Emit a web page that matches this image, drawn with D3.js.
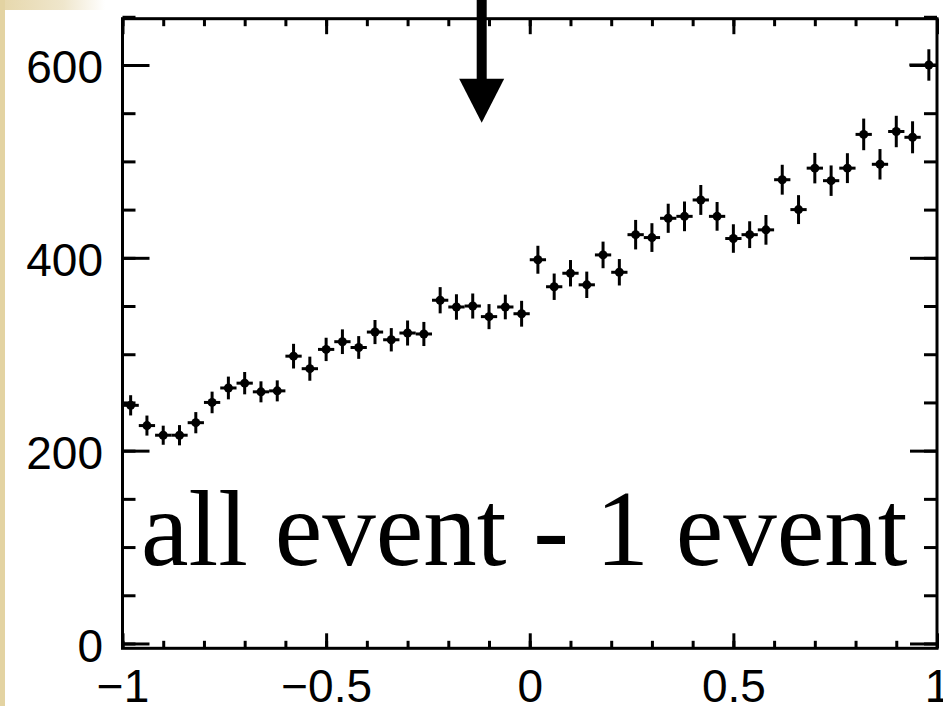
<!DOCTYPE html>
<html>
<head>
<meta charset="utf-8">
<script src="https://cdn.jsdelivr.net/npm/d3@7"></script>
<style>
  html, body { margin: 0; padding: 0; background: #ffffff; }
  svg { display: block; }
</style>
</head>
<body>
<svg id="chart" width="943" height="706"></svg>
<script>
// Histogram: 50 bins of width 0.04 over [-1, 1]
const binCenters = [
  -0.98, -0.94, -0.90, -0.86, -0.82, -0.78, -0.74, -0.70, -0.66, -0.62,
  -0.58, -0.54, -0.50, -0.46, -0.42, -0.38, -0.34, -0.30, -0.26, -0.22,
  -0.18, -0.14, -0.10, -0.06, -0.02,  0.02,  0.06,  0.10,  0.14,  0.18,
   0.22,  0.26,  0.30,  0.34,  0.38,  0.42,  0.46,  0.50,  0.54,  0.58,
   0.62,  0.66,  0.70,  0.74,  0.78,  0.82,  0.86,  0.90,  0.94,  0.98
];
const counts = [
  247, 226, 216, 216, 229, 250, 265, 270, 261, 262,
  298, 285, 305, 313, 307, 323, 315, 322, 321, 356,
  349, 350, 339, 349, 342, 398, 370, 384, 372, 403,
  385, 424, 421, 441, 443, 460, 443, 420, 424, 429,
  481, 450, 493, 480, 493, 528, 497, 531, 525, 600
];
const countErrors = [
  10.5, 10.4, 9.9, 10.5, 11.0, 11.2, 11.8, 11.6, 10.9, 10.9,
  12.8, 12.5, 12.1, 12.8, 11.8, 12.5, 12.1, 13.0, 12.5, 13.6,
  13.2, 13.0, 13.0, 12.8, 13.4, 14.5, 13.7, 13.7, 13.7, 13.8,
  13.7, 15.3, 14.9, 15.1, 15.4, 15.5, 14.9, 14.8, 13.9, 15.4,
  15.5, 15.0, 15.8, 15.8, 15.5, 16.4, 15.8, 16.3, 16.6, 16.3
];
// half bin widths (left / right) for the horizontal bars
const xErrLeft = [
  0.02, 0.02, 0.02, 0.02, 0.02, 0.02, 0.02, 0.02, 0.02, 0.02,
  0.02, 0.02, 0.02, 0.02, 0.02, 0.02, 0.02, 0.02, 0.02, 0.02,
  0.02, 0.02, 0.02, 0.02, 0.02, 0.02, 0.02, 0.02, 0.02, 0.02,
  0.02, 0.02, 0.02, 0.02, 0.02, 0.02, 0.02, 0.02, 0.02, 0.02,
  0.02, 0.02, 0.02, 0.02, 0.02, 0.02, 0.02, 0.02, 0.02, 0.048
];
const xErrRight = 0.02;

const xMajorTicks = [-1, -0.5, 0, 0.5, 1];
const xTickLabels = ["\u22121", "\u22120.5", "0", "0.5", "1"];
const xMinorTicks = d3.range(-10, 11).map(k => k / 10);
const yMajorTicks = [0, 200, 400, 600];
const yTickLabels = ["0", "200", "400", "600"];
const yMinorTicks = d3.range(0, 651, 50);

const xDomain = [-1, 1];
const yDomain = [-5, 648];

// Arrow marking a position on the x axis
const arrowAt = -0.118;
const arrowTip = 540;

const annotation = "all event - 1 event";

// ---------- layout ----------
const frame = { left: 122.5, right: 937, top: 18.7, bottom: 648.3 };
const svg = d3.select("#chart");

const x = d3.scaleLinear().domain(xDomain).range([frame.left, frame.right]);
const y = d3.scaleLinear().domain(yDomain).range([frame.bottom, frame.top]);

// slide background edge
const grad = svg.append("defs").append("linearGradient")
  .attr("id", "edgeFade").attr("x1", 0).attr("x2", 1).attr("y1", 0).attr("y2", 0);
grad.append("stop").attr("offset", "0%").attr("stop-color", "#e6d7ab");
grad.append("stop").attr("offset", "60%").attr("stop-color", "#efe6cc");
grad.append("stop").attr("offset", "100%").attr("stop-color", "#ffffff");
svg.append("rect").attr("x", 0).attr("y", 0).attr("width", 105).attr("height", 10)
  .attr("fill", "url(#edgeFade)");
svg.append("rect").attr("x", 0).attr("y", 0).attr("width", 5).attr("height", 706)
  .attr("fill", "#e3d3a2");

const tickFont = "'Liberation Sans', Arial, Helvetica, sans-serif";

function styleAxis(g) {
  g.select(".domain").remove();
  g.selectAll(".tick line").attr("stroke", "#000").attr("stroke-width", 3);
  g.selectAll("text").attr("fill", "#000").style("font-family", tickFont)
    .style("font-size", "46px");
}

// bottom axis
svg.append("g").attr("transform", `translate(0,${frame.bottom})`)
  .call(d3.axisBottom(x).tickValues(xMinorTicks).tickSize(-7.5).tickFormat(""))
  .call(styleAxis);
svg.append("g").attr("transform", `translate(0,${frame.bottom})`)
  .call(d3.axisBottom(x).tickValues(xMajorTicks).tickSize(-15).tickPadding(21)
    .tickFormat((d, i) => xTickLabels[i]))
  .call(styleAxis);

// top axis
svg.append("g").attr("transform", `translate(0,${frame.top})`)
  .call(d3.axisTop(x).tickValues(xMinorTicks).tickSize(-7.5).tickFormat(""))
  .call(styleAxis);
svg.append("g").attr("transform", `translate(0,${frame.top})`)
  .call(d3.axisTop(x).tickValues(xMajorTicks).tickSize(-15.5).tickFormat(""))
  .call(styleAxis);

// left axis
svg.append("g").attr("transform", `translate(${frame.left},0)`)
  .call(d3.axisLeft(y).tickValues(yMinorTicks).tickSize(-13).tickFormat(""))
  .call(styleAxis);
const yAxisG = svg.append("g").attr("transform", `translate(${frame.left},0)`)
  .call(d3.axisLeft(y).tickValues(yMajorTicks).tickSize(-27).tickPadding(19.5)
    .tickFormat((d, i) => yTickLabels[i]))
  .call(styleAxis);
yAxisG.selectAll("text").attr("dy", "0.39em");

// right axis
svg.append("g").attr("transform", `translate(${frame.right},0)`)
  .call(d3.axisRight(y).tickValues(yMinorTicks).tickSize(-13).tickFormat(""))
  .call(styleAxis);
svg.append("g").attr("transform", `translate(${frame.right},0)`)
  .call(d3.axisRight(y).tickValues(yMajorTicks).tickSize(-27).tickFormat(""))
  .call(styleAxis);

// frame
svg.append("rect")
  .attr("x", frame.left).attr("y", frame.top)
  .attr("width", frame.right - frame.left).attr("height", frame.bottom - frame.top)
  .attr("fill", "none").attr("stroke", "#000").attr("stroke-width", 3);

// data points with error bars
const points = binCenters.map((c, i) => ({
  x: c, y: counts[i], e: countErrors[i], xl: xErrLeft[i], xr: xErrRight
}));
const pts = svg.append("g").attr("stroke", "#000").attr("stroke-width", 3);
pts.selectAll("line.v").data(points).join("line").attr("class", "v")
  .attr("x1", d => x(d.x)).attr("x2", d => x(d.x))
  .attr("y1", d => y(d.y - d.e)).attr("y2", d => y(d.y + d.e));
pts.selectAll("line.h").data(points).join("line").attr("class", "h")
  .attr("x1", d => x(d.x - d.xl)).attr("x2", d => Math.min(x(d.x + d.xr), frame.right))
  .attr("y1", d => y(d.y)).attr("y2", d => y(d.y));
svg.append("g").selectAll("circle").data(points).join("circle")
  .attr("cx", d => x(d.x)).attr("cy", d => y(d.y)).attr("r", 4.5).attr("fill", "#000");

// annotation text
svg.append("text")
  .attr("x", 141).attr("y", 565)
  .style("font-family", "'Liberation Serif', 'Times New Roman', serif")
  .style("font-size", "107px")
  .attr("fill", "#000")
  .text(annotation);

// arrow
const ax = x(arrowAt), tipY = y(arrowTip);
const headLen = 44, headHalf = 22.5, shaftHalf = 5;
svg.append("rect")
  .attr("x", ax - shaftHalf).attr("y", -2)
  .attr("width", 2 * shaftHalf).attr("height", tipY - headLen + 4)
  .attr("fill", "#000");
svg.append("path")
  .attr("d", `M${ax - headHalf},${tipY - headLen} L${ax + headHalf},${tipY - headLen} L${ax},${tipY} Z`)
  .attr("fill", "#000");
</script>
</body>
</html>
